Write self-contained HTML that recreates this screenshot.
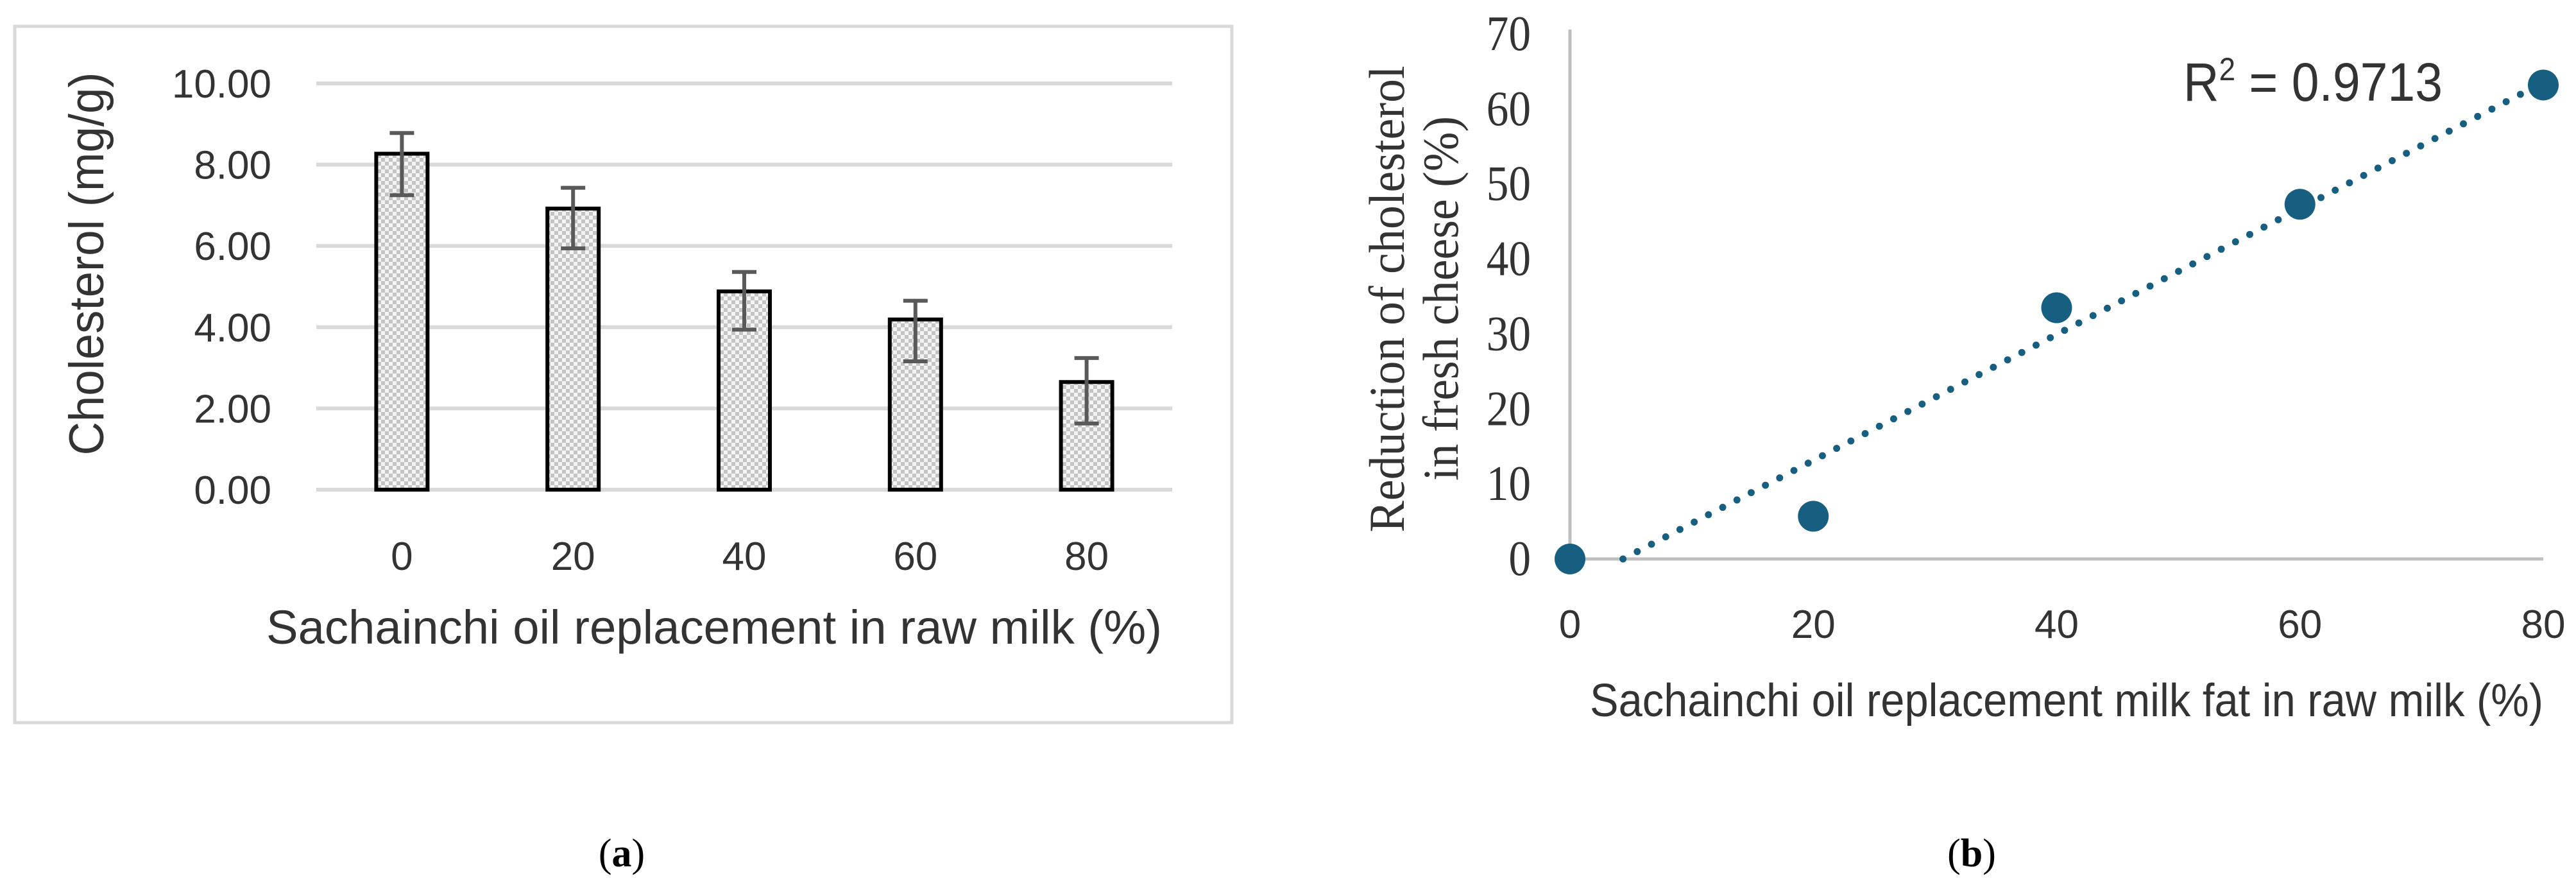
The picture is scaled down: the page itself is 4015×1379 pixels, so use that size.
<!DOCTYPE html>
<html><head><meta charset="utf-8"><style>
html,body{margin:0;padding:0;background:#fff;}
svg{display:block;}
</style></head><body>
<svg id="fig" width="4015" height="1379" viewBox="0 0 4015 1379" xmlns="http://www.w3.org/2000/svg">
<defs>
<pattern id="checker" width="12" height="12" patternUnits="userSpaceOnUse">
<rect width="12" height="12" fill="#f4f4f4"/>
<rect width="6" height="6" fill="#c4c4c4"/>
<rect x="6" y="6" width="6" height="6" fill="#c4c4c4"/>
</pattern>
</defs>
<rect x="23" y="41" width="1897" height="1085" fill="#fff" stroke="#d9d9d9" stroke-width="5"/>
<g id="chartA"></g>
<g id="chartB"></g>
<text x="969" y="1350" text-anchor="middle" font-family="Liberation Serif, serif" font-size="62" fill="#000">(<tspan font-weight="bold">a</tspan>)</text>
<text x="3073" y="1350" text-anchor="middle" font-family="Liberation Serif, serif" font-size="62" fill="#000">(<tspan font-weight="bold">b</tspan>)</text>
</svg>
<script>
// ---- Chart A data ----
const catsA = ["0","20","40","60","80"];
const valsA = [8.27, 6.92, 4.88, 4.19, 2.65];
const errHiA = [8.78, 7.43, 5.36, 4.65, 3.24];
const errLoA = [7.25, 5.94, 3.94, 3.16, 1.63];
const ticksA = [0, 2, 4, 6, 8, 10];
const tickLabelsA = ["0.00","2.00","4.00","6.00","8.00","10.00"];
// ---- Chart B data ----
const xB = [0, 20, 40, 60, 80];
const yB = [0, 5.7, 33.5, 47.3, 63.2];
const xTicksB = [0, 20, 40, 60, 80];
const yTicksB = [0, 10, 20, 30, 40, 50, 60, 70];
const r2Label = "0.9713";

const NS = "http://www.w3.org/2000/svg";
function mk(parent, tag, attrs, text){
  const e = document.createElementNS(NS, tag);
  for (const k in attrs) e.setAttribute(k, attrs[k]);
  if (text !== undefined) e.textContent = text;
  parent.appendChild(e);
  return e;
}
// ---- Chart A ----
(function(){
  const g = document.getElementById('chartA');
  const x0 = 493, x1 = 1827, y0 = 763, y1 = 130;
  const ymax = 10;
  const ys = v => y0 - (v / ymax) * (y0 - y1);
  const band = (x1 - x0) / catsA.length;
  const xc = i => x0 + band * (i + 0.5);
  ticksA.forEach((t, i) => {
    const l = mk(g, 'line', {x1: x0, x2: x1, y1: ys(t), y2: ys(t), stroke: '#d9d9d9', 'stroke-width': 6});
    
    
    const tx = mk(g, 'text', {x: 423, y: ys(t) + 22, 'text-anchor': 'end', 'font-family': 'Liberation Sans, sans-serif', 'font-size': 62, fill: '#333'}, tickLabelsA[i]);
    
    
  });
  const bw = 80;
  catsA.forEach((c, i) => {
    const b = mk(g, 'rect', {x: xc(i) - bw/2, y: ys(valsA[i]), width: bw, height: ys(0) - ys(valsA[i]), fill: 'url(#checker)', stroke: '#000', 'stroke-width': 6});
    
    
    const eg = mk(g, 'g', {stroke: '#595959', 'stroke-width': 6});
    
    
    mk(eg, 'line', {x1: xc(i), x2: xc(i), y1: ys(errHiA[i]), y2: ys(errLoA[i])});
    mk(eg, 'line', {x1: xc(i) - 19, x2: xc(i) + 19, y1: ys(errHiA[i]), y2: ys(errHiA[i])});
    mk(eg, 'line', {x1: xc(i) - 19, x2: xc(i) + 19, y1: ys(errLoA[i]), y2: ys(errLoA[i])});
    const t = mk(g, 'text', {x: xc(i), y: 888, 'text-anchor': 'middle', 'font-family': 'Liberation Sans, sans-serif', 'font-size': 62, fill: '#333'}, c);
    
    
  });
  const yt = mk(g, 'text', {x: 0, y: 0, transform: 'translate(161,411) rotate(-90)', 'text-anchor': 'middle', 'font-family': 'Liberation Sans, sans-serif', 'font-size': 76, fill: '#333', textLength: 597, lengthAdjust: 'spacingAndGlyphs'}, 'Cholesterol (mg/g)');
  
  
  const xt = mk(g, 'text', {x: 1113, y: 1003, 'text-anchor': 'middle', 'font-family': 'Liberation Sans, sans-serif', 'font-size': 74, fill: '#333', textLength: 1396, lengthAdjust: 'spacingAndGlyphs'}, 'Sachainchi oil replacement in raw milk (%)');
  
  
})();
// ---- Chart B ----
(function(){
  const g = document.getElementById('chartB');
  const ax0 = 2447, ax1 = 3964, ay0 = 871, ay1 = 53;
  const xs = v => ax0 + (v / 80) * (ax1 - ax0);
  const ys = v => ay0 - (v / 70) * (ay0 - ay1);
  const ya = mk(g, 'line', {x1: ax0, x2: ax0, y1: 46, y2: ay0, stroke: '#bfbfbf', 'stroke-width': 5});
  
  
  const xa = mk(g, 'line', {x1: ax0, x2: ax1, y1: ay0, y2: ay0, stroke: '#bfbfbf', 'stroke-width': 5});
  
  
  yTicksB.forEach(t => {
    const tx = mk(g, 'text', {x: 0, y: 0, transform: 'translate(2386,' + (ys(t) + 25) + ') scale(0.9,1)', 'text-anchor': 'end', 'font-family': 'Liberation Serif, serif', 'font-size': 77, fill: '#333'}, String(t));
    
    
  });
  xTicksB.forEach(t => {
    const tx = mk(g, 'text', {x: xs(t), y: 994, 'text-anchor': 'middle', 'font-family': 'Liberation Sans, sans-serif', 'font-size': 62, fill: '#333'}, String(t));
    
    
  });
  // linear fit
  const n = xB.length;
  const mx = xB.reduce((a,b)=>a+b,0)/n, my = yB.reduce((a,b)=>a+b,0)/n;
  let sxy = 0, sxx = 0;
  for (let i = 0; i < n; i++){ sxy += (xB[i]-mx)*(yB[i]-my); sxx += (xB[i]-mx)*(xB[i]-mx); }
  const slope = sxy / sxx, icpt = my - slope * mx;
  const xStart = Math.max(0, -icpt / slope), xEnd = Math.max.apply(null, xB);
  const tl = mk(g, 'line', {x1: xs(xStart), y1: ys(slope*xStart+icpt), x2: xs(xEnd), y2: ys(slope*xEnd+icpt), stroke: '#175f80', 'stroke-width': 11, 'stroke-linecap': 'round', 'stroke-dasharray': '0 25'});
  
  
  xB.forEach((x, i) => {
    const c = mk(g, 'circle', {cx: xs(x), cy: ys(yB[i]), r: 24, fill: '#175f80'});
    
    
  });
  const r2 = mk(g, 'text', {x: 3403, y: 157, 'font-family': 'Liberation Sans, sans-serif', 'font-size': 84, fill: '#333', textLength: 404, lengthAdjust: 'spacingAndGlyphs'});
  
  
  mk(r2, 'tspan', {}, 'R');
  mk(r2, 'tspan', {dy: -32, 'font-size': 50}, '2');
  mk(r2, 'tspan', {dy: 32}, ' = ' + r2Label);
  const yt = mk(g, 'text', {transform: 'translate(2188,466) rotate(-90)', x: 0, y: 0, 'text-anchor': 'middle', 'font-family': 'Liberation Serif, serif', 'font-size': 78, fill: '#333', textLength: 727, lengthAdjust: 'spacingAndGlyphs'}, 'Reduction of cholesterol');
  
  
  const yt2 = mk(g, 'text', {transform: 'translate(2272,465) rotate(-90)', x: 0, y: 0, 'text-anchor': 'middle', 'font-family': 'Liberation Serif, serif', 'font-size': 78, fill: '#333', textLength: 568, lengthAdjust: 'spacingAndGlyphs'}, 'in fresh cheese (%)');
  
  
  const xt = mk(g, 'text', {x: 3221, y: 1116, 'text-anchor': 'middle', 'font-family': 'Liberation Sans, sans-serif', 'font-size': 72, fill: '#333', textLength: 1486, lengthAdjust: 'spacingAndGlyphs'}, 'Sachainchi oil replacement milk fat in raw milk (%)');
  
  
})();
</script>
</body></html>
